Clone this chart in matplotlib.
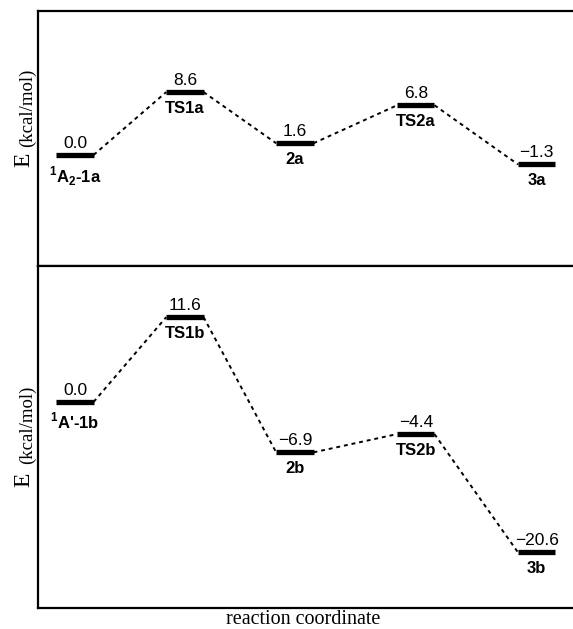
import matplotlib
matplotlib.use("Agg")
import matplotlib.pyplot as plt

plt.rcParams['font.family'] = 'Liberation Sans'
plt.rcParams['mathtext.fontset'] = 'custom'
plt.rcParams['mathtext.rm'] = 'Liberation Sans:bold'
plt.rcParams['mathtext.bf'] = 'Liberation Sans:bold'

# stationary points along the reaction coordinate
stage_x = [0.0, 1.0, 2.0, 3.1, 4.2]

names_a = [r'$^{1}$A$_{2}$-1a', 'TS1a', '2a', 'TS2a', '3a']
energy_a = [0.0, 8.6, 1.6, 6.8, -1.3]

names_b = [r"$^{1}$A'-1b", 'TS1b', '2b', 'TS2b', '3b']
energy_b = [0.0, 11.6, -6.9, -4.4, -20.6]

HW = 0.17  # half width of a level bar


def fmt(v):
    return '{:.1f}'.format(v).replace('-', '\u2212')


def draw_profile(ax, names, energies):
    for i in range(len(stage_x) - 1):
        ax.plot([stage_x[i] + HW, stage_x[i + 1] - HW], [energies[i], energies[i + 1]],
                color='black', lw=1.4, linestyle=(0, (2.0, 2.0)))
    for x, e, n in zip(stage_x, energies, names):
        ax.plot([x - HW, x + HW], [e, e], color='black', lw=3.8, solid_capstyle='butt')
        ax.annotate(fmt(e), (x, e), xytext=(0, 3), textcoords='offset points',
                    ha='center', va='bottom', fontsize=12.5)
        ax.annotate(n, (x, e), xytext=(0, -6.5), textcoords='offset points',
                    ha='center', va='top', fontsize=12, fontweight='bold')
    ax.set_xlim(-0.336, 4.53)
    ax.set_xticks([])
    ax.set_yticks([])
    ax.spines['right'].set_visible(False)
    for s in ('left', 'top', 'bottom'):
        ax.spines[s].set_linewidth(1.6)


fig = plt.figure(figsize=(5.73, 6.29), dpi=100)
ax1 = fig.add_axes([38 / 573, 1 - 266 / 629, 1 - 38 / 573, 255 / 629])
ax2 = fig.add_axes([38 / 573, 1 - 608 / 629, 1 - 38 / 573, 342 / 629])

draw_profile(ax1, names_a, energy_a)
ax1.set_ylim(-15.2, 19.7)
draw_profile(ax2, names_b, energy_b)
ax2.set_ylim(-28.2, 18.6)

# y-axis captions: large serif E with smaller unit
for e_y, u_y in ((160, 108), (480, 425)):
    fig.text(23.5 / 573, 1 - e_y / 629, 'E', rotation=90, ha='center', va='center',
             fontsize=17, family='Liberation Serif')
    fig.text(27 / 573, 1 - u_y / 629, '(kcal/mol)', rotation=90, ha='center', va='center',
             fontsize=13.5, family='Liberation Serif')

fig.text(303 / 573, 1 - 620 / 629, 'reaction coordinate', ha='center', va='center',
         fontsize=14.5, family='Liberation Serif')

fig.savefig('out.png', dpi=100)
